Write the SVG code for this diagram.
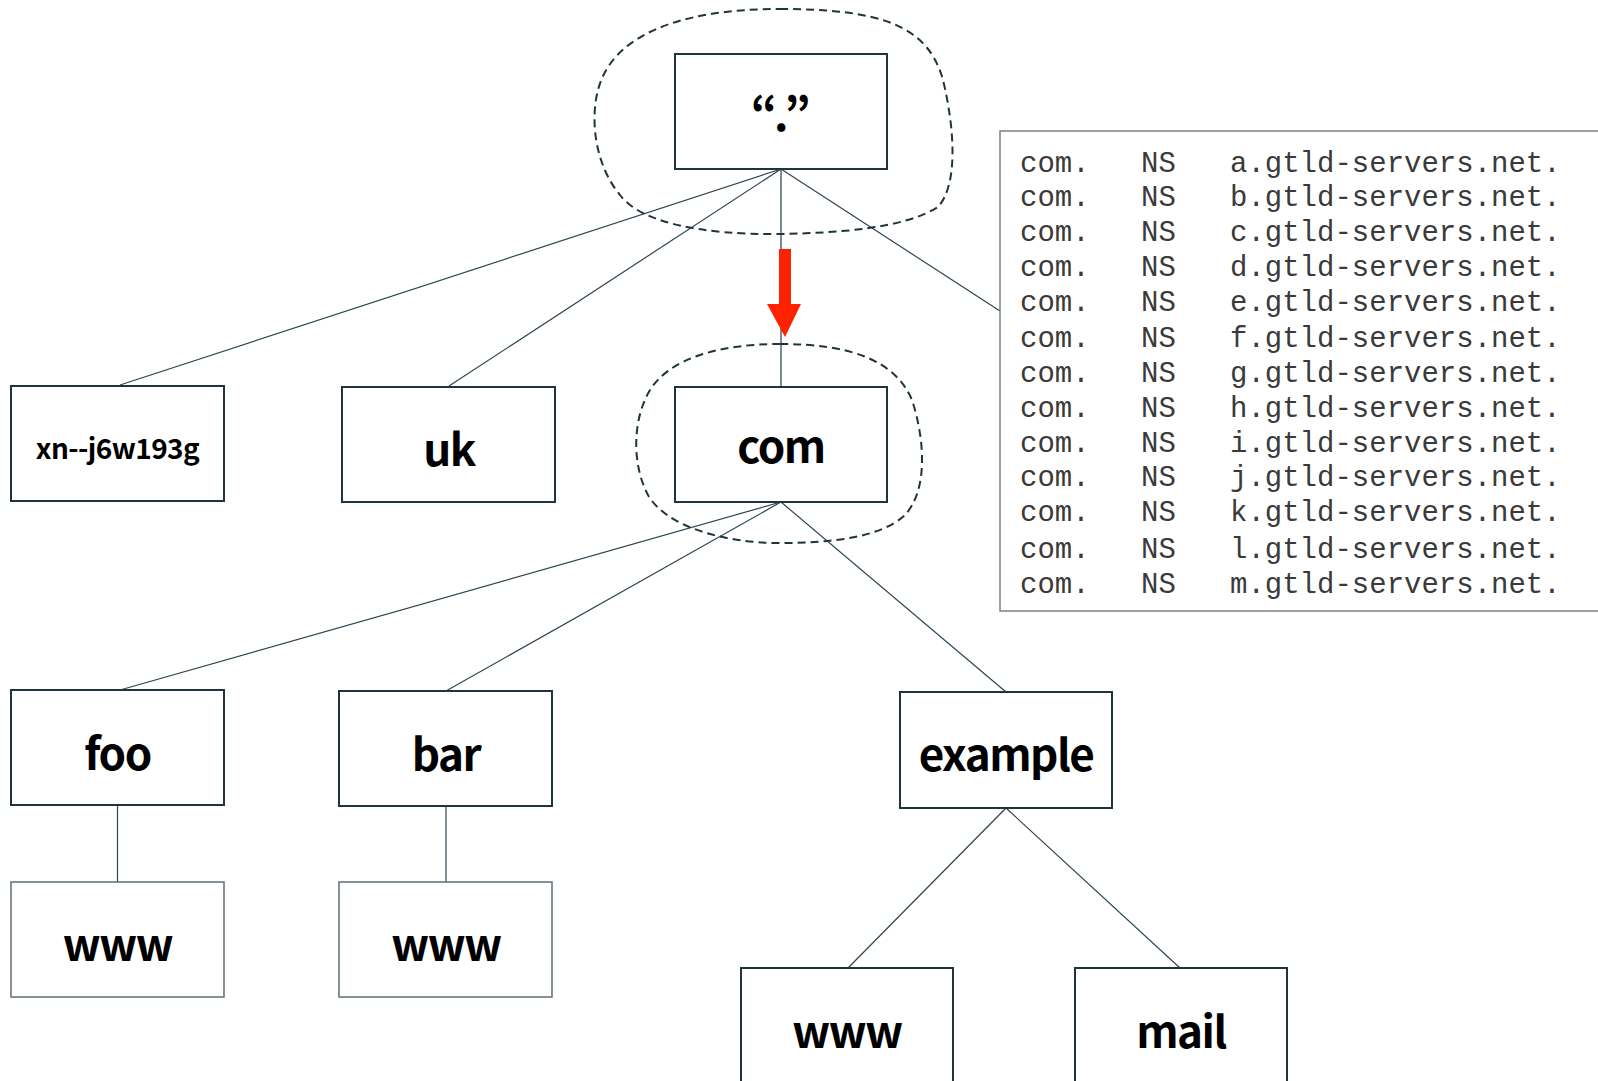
<svg xmlns="http://www.w3.org/2000/svg" width="1598" height="1081" viewBox="0 0 1598 1081">
<style>
.box{fill:#fff;stroke:#1f343b;stroke-width:2}
.box2{fill:#fff;stroke:#66767c;stroke-width:1.6}
.lbl{font-family:"Noto Sans CJK KR","Noto Sans",sans-serif;font-weight:bold;font-size:44px;letter-spacing:-1.5px;fill:#000;text-anchor:middle}
.small{font-size:28px;letter-spacing:-0.6px}
.conn{stroke:#2c4650;stroke-width:1.2;fill:none}
.blob{fill:none;stroke:#1f343b;stroke-width:2;stroke-dasharray:8 5}
.mono{font-family:"Liberation Mono","Courier New",monospace;font-size:29px;fill:#3a3a3a}
</style>
<rect width="1598" height="1081" fill="#fff"/>
<g id="connectors">
<line class="conn" x1="781" y1="169" x2="120" y2="385"/>
<line class="conn" x1="781" y1="169" x2="449" y2="386"/>
<line x1="781" y1="169" x2="781" y2="386" stroke="#7c8a90" stroke-width="2"/>
<line class="conn" x1="781" y1="169" x2="1000" y2="311"/>
<line class="conn" x1="781" y1="502" x2="120" y2="690"/>
<line class="conn" x1="781" y1="502" x2="446" y2="691"/>
<line class="conn" x1="781" y1="502" x2="1006" y2="692"/>
<line class="conn" x1="117.5" y1="805" x2="117.5" y2="882"/>
<line class="conn" x1="446" y1="806" x2="446" y2="882"/>
<line class="conn" x1="1006" y1="808" x2="848" y2="968"/>
<line class="conn" x1="1006" y1="808" x2="1180" y2="968"/>
</g>
<g id="zone-root">
<path class="blob" d="M 780,9 C 880,9 928,25 943,80 C 955,130 958,185 938,207 C 905,228 840,233 780,234 C 700,235 640,222 620,195 C 595,165 590,120 598,90 C 612,35 680,9 780,9 Z"/>
</g>
<g id="zone-com">
<path class="blob" d="M 780,344 C 850,344 895,360 912,400 C 925,440 928,490 905,515 C 880,538 830,543 780,543 C 720,543 665,525 648,495 C 632,465 632,420 650,390 C 670,358 720,344 780,344 Z"/>
</g>
<g id="node-root">
<rect class="box" x="675" y="54" width="212" height="115"/>
<text class="lbl" x="782" y="131" style="font-size:46px;letter-spacing:2.5px">“.”</text>
</g>
<g id="node-xn">
<rect class="box" x="11" y="386" width="213" height="115"/>
<text class="lbl small" x="117.5" y="459">xn--j6w193g</text>
</g>
<g id="node-uk">
<rect class="box" x="342" y="387" width="213" height="115"/>
<text class="lbl" x="449" y="466">uk</text>
</g>
<g id="node-com">
<rect class="box" x="675" y="387" width="212" height="115"/>
<text class="lbl" x="781" y="463">com</text>
</g>
<g id="node-foo">
<rect class="box" x="11" y="690" width="213" height="115"/>
<text class="lbl" x="117.5" y="770">foo</text>
</g>
<g id="node-bar">
<rect class="box" x="339" y="691" width="213" height="115"/>
<text class="lbl" x="446" y="771">bar</text>
</g>
<g id="node-example">
<rect class="box" x="900" y="692" width="212" height="116"/>
<text class="lbl" x="1006" y="771">example</text>
</g>
<g id="node-foo-www">
<rect class="box2" x="11" y="882" width="213" height="115"/>
<text class="lbl" x="117.5" y="961">www</text>
</g>
<g id="node-bar-www">
<rect class="box2" x="339" y="882" width="213" height="115"/>
<text class="lbl" x="446" y="961">www</text>
</g>
<g id="node-example-www">
<rect class="box" x="741" y="968" width="212" height="125"/>
<text class="lbl" x="847" y="1048">www</text>
</g>
<g id="node-mail">
<rect class="box" x="1075" y="968" width="212" height="125"/>
<text class="lbl" x="1181" y="1048">mail</text>
</g>
<g id="ns-records">
<rect x="1000" y="131" width="620" height="480" fill="#fff" stroke="#7a8288" stroke-width="1.5"/>
<g class="mono">
<text y="172"><tspan x="1020">com.</tspan><tspan x="1141">NS</tspan><tspan x="1230">a.gtld-servers.net.</tspan></text>
<text y="206"><tspan x="1020">com.</tspan><tspan x="1141">NS</tspan><tspan x="1230">b.gtld-servers.net.</tspan></text>
<text y="241"><tspan x="1020">com.</tspan><tspan x="1141">NS</tspan><tspan x="1230">c.gtld-servers.net.</tspan></text>
<text y="276"><tspan x="1020">com.</tspan><tspan x="1141">NS</tspan><tspan x="1230">d.gtld-servers.net.</tspan></text>
<text y="311"><tspan x="1020">com.</tspan><tspan x="1141">NS</tspan><tspan x="1230">e.gtld-servers.net.</tspan></text>
<text y="347"><tspan x="1020">com.</tspan><tspan x="1141">NS</tspan><tspan x="1230">f.gtld-servers.net.</tspan></text>
<text y="382"><tspan x="1020">com.</tspan><tspan x="1141">NS</tspan><tspan x="1230">g.gtld-servers.net.</tspan></text>
<text y="417"><tspan x="1020">com.</tspan><tspan x="1141">NS</tspan><tspan x="1230">h.gtld-servers.net.</tspan></text>
<text y="452"><tspan x="1020">com.</tspan><tspan x="1141">NS</tspan><tspan x="1230">i.gtld-servers.net.</tspan></text>
<text y="486"><tspan x="1020">com.</tspan><tspan x="1141">NS</tspan><tspan x="1230">j.gtld-servers.net.</tspan></text>
<text y="521"><tspan x="1020">com.</tspan><tspan x="1141">NS</tspan><tspan x="1230">k.gtld-servers.net.</tspan></text>
<text y="558"><tspan x="1020">com.</tspan><tspan x="1141">NS</tspan><tspan x="1230">l.gtld-servers.net.</tspan></text>
<text y="593"><tspan x="1020">com.</tspan><tspan x="1141">NS</tspan><tspan x="1230">m.gtld-servers.net.</tspan></text>
</g>
</g>
<g id="red-arrow">
<rect x="779" y="249" width="12" height="57" fill="#ff2200"/>
<polygon points="767,304 801,304 785,337" fill="#ff2200"/>
</g>
</svg>
